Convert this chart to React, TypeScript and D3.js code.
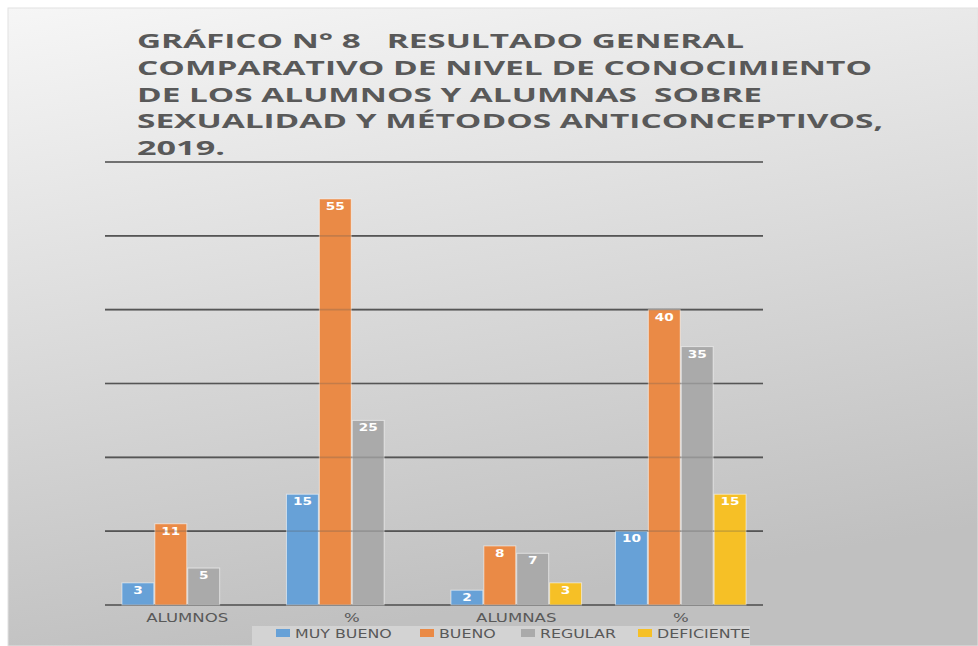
import { scaleBand, scaleLinear, range } from 'd3'

const CATEGORIES = ['ALUMNOS', '%', 'ALUMNAS', '%']
const SERIES = ['MUY BUENO', 'BUENO', 'REGULAR', 'DEFICIENTE']
const MUY_BUENO = [3, 15, 2, 10]
const BUENO = [11, 55, 8, 40]
const REGULAR = [5, 25, 7, 35]
const DEFICIENTE = [0, 0, 3, 15]
const Y_TICKS = [0, 10, 20, 30, 40, 50, 60]

const TITLE_LINES = [
  'GRÁFICO N° 8   RESULTADO GENERAL',
  'COMPARATIVO DE NIVEL DE CONOCIMIENTO',
  'DE LOS ALUMNOS Y ALUMNAS  SOBRE',
  'SEXUALIDAD Y MÉTODOS ANTICONCEPTIVOS,',
  '2019.',
]
// rendered widths of each title line (the original is stretched sideways)
const TITLE_WIDTHS = [607, 735, 625, 746, 88]

const COLORS = ['#67a1d7', '#ea8a46', '#aaaaaa', '#f6c026']
const TEXT = '#595959'
const W = 978
const H = 646
const SX = 1.38 // horizontal stretch of axis labels
const LEGEND_SX = 1.32

export default function App() {
  const values = [MUY_BUENO, BUENO, REGULAR, DEFICIENTE]
  const left = 105
  const right = 763
  const x = scaleBand<number>()
    .domain(range(CATEGORIES.length))
    .range([left, right])
    .paddingInner(0.2)
    .paddingOuter(0.1)
  const xs = scaleBand<number>()
    .domain(range(SERIES.length))
    .range([0, x.bandwidth()])
  const y = scaleLinear().domain([0, 60]).range([605, 162])

  const legendX = [276, 420, 521, 638]

  const grid = (op: number) =>
    Y_TICKS.map((t) => (
      <line
        key={t}
        x1={left}
        x2={right}
        y1={y(t)}
        y2={y(t)}
        stroke="#555"
        strokeWidth={1.6}
        opacity={op}
      />
    ))

  return (
    <div style={{ position: 'absolute', left: 0, top: 0 }}>
      <svg width={W} height={H} viewBox={`0 0 ${W} ${H}`} style={{ display: 'block' }}>
        <defs>
          <linearGradient id="bg" x1="0" y1="0" x2="0.25" y2="1">
            <stop offset="0" stopColor="#f6f6f6" />
            <stop offset="1" stopColor="#c0c0c0" />
          </linearGradient>
        </defs>
        <rect width={W} height={H} fill="#fff" />
        <rect x={8} y={8} width={W - 8} height={H - 8} fill="url(#bg)" stroke="#e2e2e2" />

        {TITLE_LINES.map((t, i) => (
          <text
            key={i}
            x={137}
            y={48 + i * 26.8}
            fontFamily="'Open Sans', sans-serif"
            fontWeight={700}
            fontSize={20}
            fill={TEXT}
            textLength={TITLE_WIDTHS[i]}
            lengthAdjust="spacingAndGlyphs"
            style={{ whiteSpace: 'pre' }}
          >
            {t}
          </text>
        ))}

        {grid(1)}

        {values.map((vals, s) =>
          vals.map((v, c) => {
            const bx = (x(c) ?? 0) + (xs(s) ?? 0)
            const bw = xs.bandwidth()
            return (
              <g key={`${s}-${c}`}>
                <rect
                  x={bx + 0.5}
                  y={y(v)}
                  width={bw - 1}
                  height={y(0) - y(v)}
                  fill={COLORS[s]}
                  stroke="rgba(255,255,255,0.55)"
                  strokeWidth={1}
                />
                {v > 0 && (
                  <text
                    x={bx + bw / 2}
                    y={y(v) + 11}
                    textAnchor="middle"
                    fontFamily="'DejaVu Sans', sans-serif"
                    fontWeight={700}
                    fontSize={11}
                    fill="#fff"
                    textLength={String(v).length * 9.5}
                    lengthAdjust="spacingAndGlyphs"
                  >
                    {v}
                  </text>
                )}
              </g>
            )
          })
        )}

        {grid(0.25)}

        {CATEGORIES.map((c, i) => (
          <text
            key={i}
            transform={`translate(${(x(i) ?? 0) + x.bandwidth() / 2},622) scale(${SX},1)`}
            textAnchor="middle"
            fontFamily="'DejaVu Sans', sans-serif"
            fontSize={12}
            fill={TEXT}
          >
            {c}
          </text>
        ))}

        <rect x={252} y={626} width={498} height={H - 626} fill="#d3d3d3" />
        {SERIES.map((s, i) => (
          <g key={s}>
            <rect x={legendX[i]} y={629} width={14} height={8} fill={COLORS[i]} />
            <text
              transform={`translate(${legendX[i] + 19},637.5) scale(${LEGEND_SX},1)`}
              fontFamily="'DejaVu Sans', sans-serif"
              fontSize={12}
              fill={TEXT}
            >
              {s}
            </text>
          </g>
        ))}
      </svg>
    </div>
  )
}
